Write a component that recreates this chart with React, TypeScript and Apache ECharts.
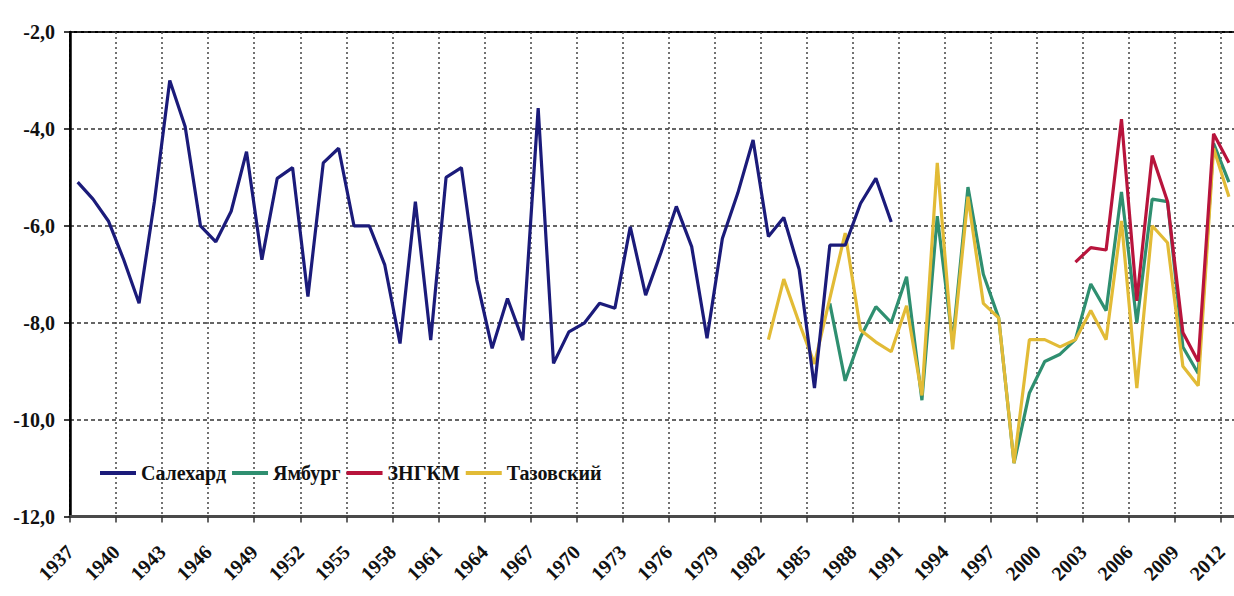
import React, { useEffect, useRef } from "react";
import * as echarts from "echarts";

const FIRST_YEAR = 1937;
const AXIS_SPAN = 76; // category boundaries 1937 .. 2013
const TICK_STEP = 3;

const yTicks = { min: -12, max: -2, step: 2 };

const salekhardStart = 1937;
const salekhard = [
  -5.1, -5.45, -5.9, -6.7, -7.6, -5.5, -3.0, -3.95, -6.0, -6.33,
  -5.7, -4.47, -6.7, -5.02, -4.8, -7.46, -4.7, -4.4, -6.0, -6.0,
  -6.8, -8.43, -5.5, -8.36, -5.0, -4.8, -7.12, -8.53, -7.5, -8.36,
  -3.57, -8.84, -8.19, -8.01, -7.6, -7.7, -6.02, -7.43, -6.55, -5.6,
  -6.43, -8.32, -6.26, -5.33, -4.23, -6.22, -5.83, -6.9, -9.35, -6.4,
  -6.4, -5.54, -5.02, -5.92,
];

const yamburgStart = 1986;
const yamburg = [
  -7.6, -9.2, -8.3, -7.67, -8.0, -7.05, -9.6, -5.8, -8.4, -5.2,
  -7.0, -7.9, -10.9, -9.45, -8.8, -8.65, -8.35, -7.2, -7.75, -5.3,
  -8.0, -5.45, -5.5, -8.5, -9.05, -4.3, -5.1,
];

const zngkmStart = 2002;
const zngkm = [-6.75, -6.45, -6.5, -3.8, -7.55, -4.55, -5.5, -8.2, -8.8, -4.1, -4.7];

const tazovskyStart = 1982;
const tazovsky = [
  -8.35, -7.1, -8.0, -8.85, -7.5, -6.15, -8.15, -8.4, -8.6, -7.65,
  -9.5, -4.7, -8.55, -5.4, -7.6, -7.9, -10.9, -8.35, -8.35, -8.5,
  -8.35, -7.75, -8.35, -5.9, -9.35, -6.0, -6.35, -8.9, -9.3, -4.4,
  -5.4,
];

const seriesDefs = [
  { name: "Салехард", start: salekhardStart, values: salekhard, color: "#1b1b7a", z: 5 },
  { name: "Ямбург", start: yamburgStart, values: yamburg, color: "#2f8f70", z: 2 },
  { name: "ЗНГКМ", start: zngkmStart, values: zngkm, color: "#b8143c", z: 4 },
  { name: "Тазовский", start: tazovskyStart, values: tazovsky, color: "#e2bb36", z: 3 },
];

// points sit at the centre of each year's band
const toPoints = (start: number, values: number[]) =>
  values.map((v, i) => [start + i - FIRST_YEAR + 0.5, v]);

const FONT = "Liberation Serif";

export default function App() {
  const ref = useRef<HTMLDivElement>(null);

  useEffect(() => {
    if (!ref.current) return;
    const chart = echarts.init(ref.current, undefined, { renderer: "svg" });
    chart.setOption({
      animation: false,
      backgroundColor: "#ffffff",
      grid: {
        left: 70,
        top: 32,
        width: 1166.6,
        height: 484.5,
        show: true,
        borderColor: "#000",
        borderWidth: 2,
        backgroundColor: "transparent",
      },
      legend: {
        data: seriesDefs.map((s) => s.name),
        left: 95,
        top: 458,
        itemWidth: 36,
        itemHeight: 4,
        itemGap: 6,
        icon: "rect",
        textStyle: { fontFamily: FONT, fontSize: 20, fontWeight: "bold", color: "#111" },
      },
      xAxis: {
        type: "value",
        min: 0,
        max: AXIS_SPAN,
        interval: TICK_STEP,
        axisLine: { show: true, onZero: false, lineStyle: { color: "#4a4a4a", width: 3 } },
        axisTick: { show: true, length: 6, lineStyle: { color: "#333", width: 1.5 } },
        axisLabel: {
          rotate: 45,
          margin: 32,
          fontFamily: FONT,
          fontSize: 20,
          fontWeight: "bold",
          color: "#111",
          showMaxLabel: false,
          formatter: (v: number) => (v % TICK_STEP === 0 ? String(FIRST_YEAR + v) : ""),
        },
        splitLine: { show: true, lineStyle: { color: "#444", type: [2, 3], width: 1.5 } },
      },
      yAxis: {
        type: "value",
        min: yTicks.min,
        max: yTicks.max,
        interval: yTicks.step,
        axisLine: { show: true, onZero: false, lineStyle: { color: "#000", width: 2.5 } },
        axisTick: { show: true, length: 6, lineStyle: { color: "#000", width: 1.5 } },
        axisLabel: {
          margin: 15,
          fontFamily: FONT,
          fontSize: 20,
          fontWeight: "bold",
          color: "#111",
          formatter: (v: number) => v.toFixed(1).replace(".", ","),
        },
        splitLine: { show: true, lineStyle: { color: "#333", type: [4, 3], width: 1.5 } },
      },
      series: seriesDefs.map((s) => ({
        name: s.name,
        type: "line",
        data: toPoints(s.start, s.values),
        showSymbol: false,
        symbol: "none",
        z: s.z,
        itemStyle: { color: s.color },
        lineStyle: { color: s.color, width: 3.2 },
      })),
    });
    return () => chart.dispose();
  }, []);

  return (
    <div
      style={{
        position: "fixed",
        left: 0,
        top: 0,
        width: 1234,
        height: 596,
        overflow: "hidden",
        background: "#fff",
      }}
    >
      <div ref={ref} style={{ width: 1250, height: 596 }} />
    </div>
  );
}
